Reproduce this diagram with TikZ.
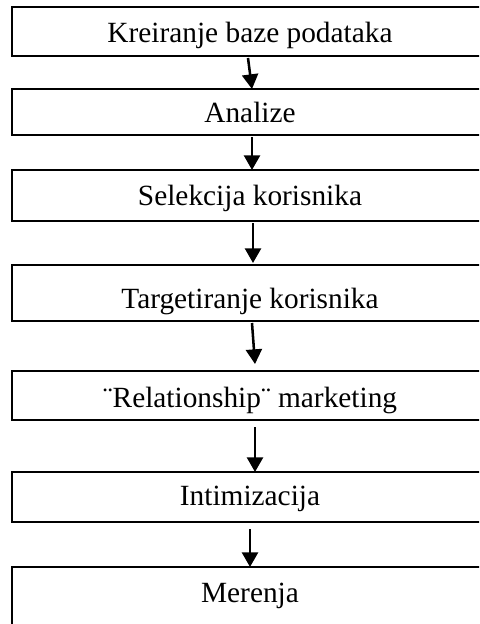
\documentclass[tikz,border=0pt]{standalone}
\usepackage{fontspec}
\setmainfont{Liberation Serif}
\usetikzlibrary{arrows.meta,calc}

\begin{document}
\begin{tikzpicture}[x=0.75pt,y=-0.75pt,
  stage/.style={draw, line width=1.5pt, anchor=base, inner xsep=0pt, inner ysep=0pt,
    minimum width=357pt, minimum height=0pt,
    font=\fontsize{22pt}{25pt}\selectfont},
  flow/.style={line width=1.9pt, -{Triangle[width=12pt,length=11pt]}}]
  \useasboundingbox (0,0) rectangle (479,624);
  \clip (0,0) rectangle (479,624);

  % stages of the process, top to bottom (positioned on their baselines)
  \node[stage, text height=27pt,    text depth=9.75pt]  (b1) at (250,43)  {Kreiranje baze podataka};
  \node[stage, text height=25.5pt,  text depth=9pt]     (b2) at (250,123) {Analize};
  \node[stage, text height=26.25pt, text depth=12pt]    (b3) at (250,205) {Selekcija korisnika};
  \node[stage, text height=32.25pt, text depth=9.75pt]  (b4) at (250,308) {Targetiranje korisnika};
  \node[stage, text height=27pt,    text depth=9.75pt]  (b5) at (250,407) {¨Relationship¨ marketing};
  \node[stage, text height=24.75pt, text depth=12.75pt] (b6) at (250,505) {Intimizacija};
  \node[stage, text height=26.25pt, text depth=28.5pt]  (b7) at (250,602) {Merenja};

  % arrows between consecutive stages
  \draw[flow] ($(b1.south)+(-2,1)$) -- ($(b2.north)+(2,1)$);
  \draw[flow] ($(b2.south)+(2,1)$)  -- ($(b3.north)+(2,1)$);
  \draw[flow] ($(b3.south)+(3,1)$)  -- ($(b4.north)+(3,-1)$);
  \draw[flow] ($(b4.south)+(2,1)$)  -- ($(b5.north)+(5,-6)$);
  \draw[flow] ($(b5.south)+(5,6)$)  -- ($(b6.north)+(5,1)$);
  \draw[flow] ($(b6.south)+(0,6)$)  -- ($(b7.north)+(0,1)$);
\end{tikzpicture}
\end{document}
